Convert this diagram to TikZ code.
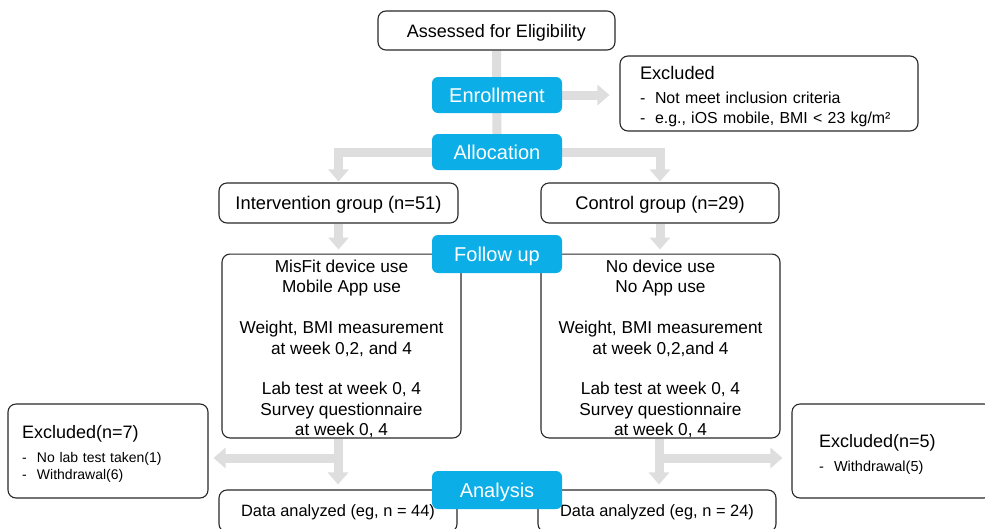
\documentclass[tikz,border=0pt]{standalone}
\usepackage{fontspec}
\setmainfont{Liberation Sans}
\usetikzlibrary{positioning,arrows.meta,backgrounds}

\definecolor{stageblue}{RGB}{11,174,230}
\definecolor{flowgrey}{RGB}{222,222,222}
\definecolor{edgegrey}{RGB}{40,40,40}

\newcommand{\bul}[1]{\makebox[15pt][l]{-}#1}
% extra head room on the first line pushes a text block down
\newcommand{\firstline}[2]{\raisebox{0pt}[\dimexpr\height+#1+#1\relax]{#2}}

\begin{document}
\begin{tikzpicture}[x=1pt, y=-1pt,
  box/.style={draw=edgegrey, line width=1.1pt, rounded corners=8pt, fill=white, inner sep=0pt,
    align=center, font=\fontsize{17.25}{20.4}\selectfont},
  oneline/.style={box, text depth=0pt},
  stage/.style={fill=stageblue, rounded corners=6pt, text=white, inner sep=0pt, text depth=0pt,
    minimum width=130pt, font=\fontsize{20}{24}\selectfont},
  flow/.style={draw=flowgrey, line width=9pt},
  flowarrow/.style={flow, -{Triangle[width=20pt,length=12pt]}}]

  \useasboundingbox (0,0) rectangle (985,528);

  \node[oneline, minimum width=237pt, minimum height=39pt, font=\fontsize{18}{21}\selectfont] (assess) at (496.5,30.5) {Assessed for Eligibility};

  \node[box, minimum width=298pt, minimum height=75pt, text width=258pt, align=left,
    font=\fontsize{15.9}{20}\selectfont] (excltop) at (769,93.5)
    {\firstline{3.5pt}{\fontsize{18.2}{20}\selectfont Excluded}\\[4pt]
     \bul{Not meet inclusion criteria}\\
     \bul{e.g., iOS mobile, BMI < 23 kg/m²}};

  \node[oneline, minimum width=239pt, minimum height=40pt, font=\fontsize{18.3}{22}\selectfont] (interv) at (338.5,203) {Intervention group (n=51)};
  \node[oneline, minimum width=238pt, minimum height=40pt, font=\fontsize{18.3}{22}\selectfont] (control) at (660,203) {Control group (n=29)};

  \node[box, minimum width=239pt, minimum height=182pt] (lfollow) at (341.5,346)
    {\firstline{3pt}{MisFit device use}\\ Mobile App use\\[20.4pt]
     Weight, BMI measurement\\ at week 0,2, and 4\\[20.4pt]
     Lab test at week 0, 4\\ Survey questionnaire\\ at week 0, 4};
  \node[box, minimum width=239pt, minimum height=182pt] (rfollow) at (660.5,346)
    {\firstline{3pt}{No device use}\\ No App use\\[20.4pt]
     Weight, BMI measurement\\ at week 0,2,and 4\\[20.4pt]
     Lab test at week 0, 4\\ Survey questionnaire\\ at week 0, 4};

  \node[box, minimum width=200pt, minimum height=94pt, text width=172pt, align=left,
    font=\fontsize{14}{16.5}\selectfont] (lexcl) at (108,451)
    {\firstline{3pt}{\fontsize{18}{21}\selectfont Excluded(n=7)}\\[7.5pt]
     \bul{No lab test taken(1)}\\
     \bul{Withdrawal(6)}};
  \node[box, minimum width=200pt, minimum height=94pt, text width=146pt, align=left,
    font=\fontsize{14.5}{16}\selectfont] (rexcl) at (892,451)
    {\firstline{3.5pt}{\fontsize{18}{21}\selectfont Excluded(n=5)}\\[8pt]
     \bul{Withdrawal(5)}};

  \node[oneline, minimum width=238pt, minimum height=42pt, font=\fontsize{16.4}{19}\selectfont] (ldata) at (338,511) {Data analyzed (eg, n = 44)};
  \node[oneline, minimum width=238pt, minimum height=42pt, font=\fontsize{16.4}{19}\selectfont] (rdata) at (657,511) {Data analyzed (eg, n = 24)};

  \node[stage, minimum height=36pt] (enroll) at (497,95) {Enrollment};
  \node[stage, minimum height=36pt] (alloc) at (497,152) {Allocation};
  \node[stage, minimum height=38pt] (follow) at (497,254) {Follow up};
  \node[stage, minimum height=38pt] (analysis) at (497,490) {Analysis};

  \coordinate (lsplit) at (338,458);
  \coordinate (rsplit) at (659,458);

  \begin{scope}[on background layer]
    \fill[white] (0,0) rectangle (985,528);
    \draw[flow] (assess.south) -- (alloc.north);
    \draw[flowarrow, shorten >=10pt] (enroll.east) -- (enroll.east -| excltop.west);
    \draw[flowarrow, shorten >=1pt] (alloc.west) -| (interv.north);
    \draw[flowarrow, shorten >=1pt] (alloc.east) -| (control.north);
    \draw[flowarrow, shorten >=4pt] (interv.south) -- (interv.south |- lfollow.north);
    \draw[flowarrow, shorten >=4pt] (control.south) -- (control.south |- rfollow.north);

    \draw[flowarrow, shorten >=5pt] (ldata.north |- lfollow.south) -- (ldata.north);
    \draw[flowarrow, shorten >=5pt] (lsplit) -- (lsplit -| lexcl.east);
    \draw[flowarrow, shorten >=5pt] (rsplit |- rfollow.south) -- (rsplit |- rdata.north);
    \draw[flowarrow, shorten >=9pt] (rsplit) -- (rsplit -| rexcl.west);
  \end{scope}

\end{tikzpicture}
\end{document}
